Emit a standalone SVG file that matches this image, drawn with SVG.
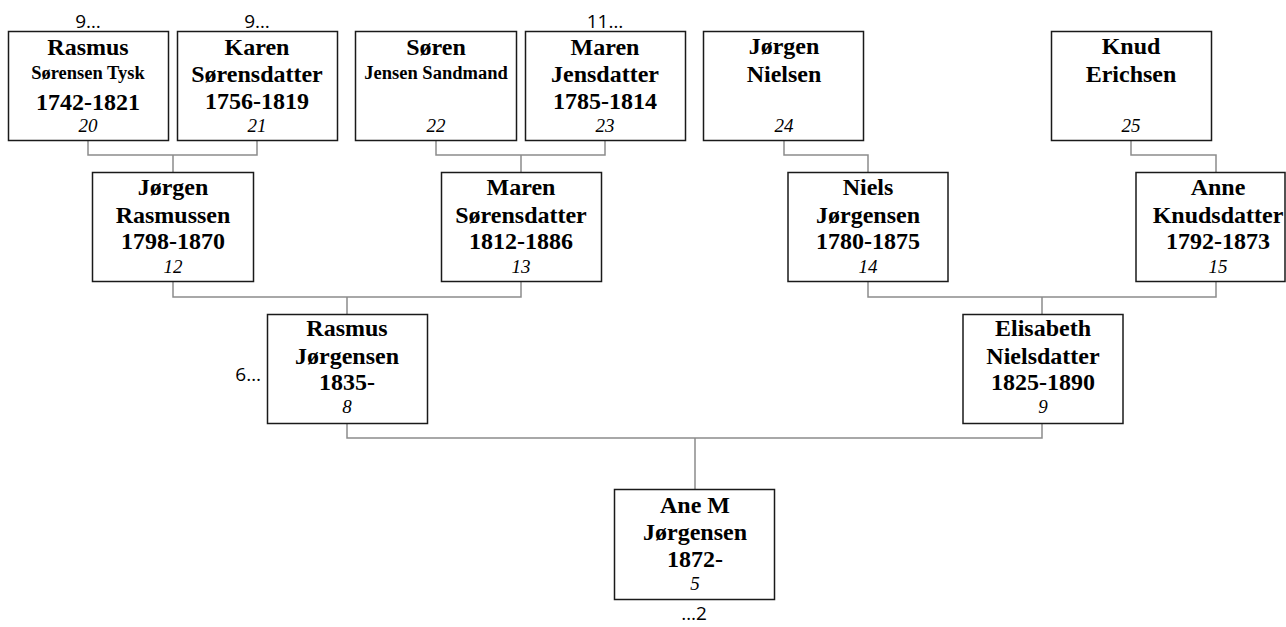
<svg xmlns="http://www.w3.org/2000/svg" width="1286" height="627" viewBox="0 0 1286 627">
<style>
.box{fill:#fff;stroke:#1a1a1a;stroke-width:1.5}
.n{font-family:"Liberation Serif","Times New Roman",serif;font-weight:bold;font-size:24px;text-anchor:middle;fill:#000}
.s{font-family:"Liberation Serif","Times New Roman",serif;font-weight:bold;font-size:18.5px;text-anchor:middle;fill:#000}
.i{font-family:"Liberation Serif","Times New Roman",serif;font-style:italic;font-size:19px;text-anchor:middle;fill:#000}
.o{font-family:"Open Sans","Liberation Sans",sans-serif;font-size:19px;fill:#000}
.c{fill:none;stroke:#8c8c8c;stroke-width:1.5}
</style>
<rect width="1286" height="627" fill="#fff"/>
<g id="connectors">
<path class="c" d="M88,140V155H257V140M173,155V172"/>
<path class="c" d="M436,140V155H605V140M521,155V172"/>
<path class="c" d="M784,140V155H868V172"/>
<path class="c" d="M1131,140V155H1216V172"/>
<path class="c" d="M173,282V297H521V282M347,297V314"/>
<path class="c" d="M868,282V297H1216V282M1042,297V314"/>
<path class="c" d="M347,423V438H1042V423M695,438V489"/>
</g>
<g id="n20">
<rect class="box" x="8.5" y="31.5" width="160" height="109"/>
<text class="n" x="88" y="55">Rasmus</text>
<text class="s" x="88" y="79">Sørensen Tysk</text>
<text class="n" x="88" y="110">1742-1821</text>
<text class="i" x="88" y="132">20</text>
<text class="o" x="88" y="28" text-anchor="middle">9…</text>
</g>
<g id="n21">
<rect class="box" x="177.5" y="31.5" width="160" height="109"/>
<text class="n" x="257" y="55">Karen</text>
<text class="n" x="257" y="82">Sørensdatter</text>
<text class="n" x="257" y="109">1756-1819</text>
<text class="i" x="257" y="132">21</text>
<text class="o" x="257" y="28" text-anchor="middle">9…</text>
</g>
<g id="n22">
<rect class="box" x="355.5" y="31.5" width="161" height="109"/>
<text class="n" x="436" y="55">Søren</text>
<text class="s" x="436" y="79">Jensen Sandmand</text>
<text class="i" x="436" y="132">22</text>
</g>
<g id="n23">
<rect class="box" x="525.5" y="31.5" width="160" height="109"/>
<text class="n" x="605" y="55">Maren</text>
<text class="n" x="605" y="82">Jensdatter</text>
<text class="n" x="605" y="109">1785-1814</text>
<text class="i" x="605" y="132">23</text>
<text class="o" x="605" y="28" text-anchor="middle">11…</text>
</g>
<g id="n24">
<rect class="box" x="703.5" y="31.5" width="160" height="109"/>
<text class="n" x="784" y="54">Jørgen</text>
<text class="n" x="784" y="82">Nielsen</text>
<text class="i" x="784" y="132">24</text>
</g>
<g id="n25">
<rect class="box" x="1051.5" y="31.5" width="160" height="109"/>
<text class="n" x="1131" y="54">Knud</text>
<text class="n" x="1131" y="82">Erichsen</text>
<text class="i" x="1131" y="132">25</text>
</g>
<g id="n12">
<rect class="box" x="92.5" y="172.5" width="161" height="109"/>
<text class="n" x="173" y="195">Jørgen</text>
<text class="n" x="173" y="223">Rasmussen</text>
<text class="n" x="173" y="249">1798-1870</text>
<text class="i" x="173" y="273">12</text>
</g>
<g id="n13">
<rect class="box" x="441.5" y="172.5" width="160" height="109"/>
<text class="n" x="521" y="195">Maren</text>
<text class="n" x="521" y="223">Sørensdatter</text>
<text class="n" x="521" y="249">1812-1886</text>
<text class="i" x="521" y="273">13</text>
</g>
<g id="n14">
<rect class="box" x="788" y="172.5" width="160" height="109"/>
<text class="n" x="868" y="195">Niels</text>
<text class="n" x="868" y="223">Jørgensen</text>
<text class="n" x="868" y="249">1780-1875</text>
<text class="i" x="868" y="273">14</text>
</g>
<g id="n15">
<rect class="box" x="1136" y="172.5" width="149" height="109"/>
<text class="n" x="1218" y="195">Anne</text>
<text class="n" x="1218" y="223">Knudsdatter</text>
<text class="n" x="1218" y="249">1792-1873</text>
<text class="i" x="1218" y="273">15</text>
</g>
<g id="n8">
<rect class="box" x="267.5" y="314.5" width="160" height="109"/>
<text class="n" x="347" y="336">Rasmus</text>
<text class="n" x="347" y="364">Jørgensen</text>
<text class="n" x="347" y="390">1835-</text>
<text class="i" x="347" y="413">8</text>
<text class="o" x="261" y="381" text-anchor="end">6…</text>
</g>
<g id="n9">
<rect class="box" x="963" y="314.5" width="160" height="109"/>
<text class="n" x="1043" y="336">Elisabeth</text>
<text class="n" x="1043" y="364">Nielsdatter</text>
<text class="n" x="1043" y="390">1825-1890</text>
<text class="i" x="1043" y="413">9</text>
</g>
<g id="n5">
<rect class="box" x="614.5" y="489.5" width="160" height="110"/>
<text class="n" x="695" y="513">Ane M</text>
<text class="n" x="695" y="540">Jørgensen</text>
<text class="n" x="695" y="567">1872-</text>
<text class="i" x="695" y="590">5</text>
<text class="o" x="694" y="620" text-anchor="middle">…2</text>
</g>
</svg>
